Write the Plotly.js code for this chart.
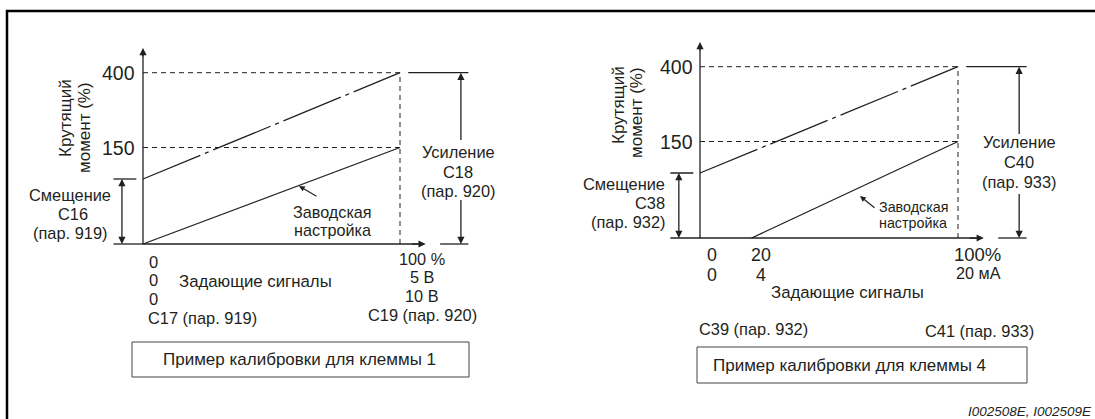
<!DOCTYPE html>
<html>
<head>
<meta charset="utf-8">
<script src="https://cdn.plot.ly/plotly-3.0.1.min.js"></script>
<style>html,body{margin:0;padding:0;background:#fff;}#chart{width:1095px;height:419px;}</style>
</head>
<body>
<div id="chart"></div>
<script>
// ---------------- DATA ----------------
// Setting signal, % of full scale
const signalLeft = [0, 100];          // terminal 1 (0..5 V / 0..10 V)
const signalRightFactory = [20, 100]; // terminal 4 (4..20 mA -> 20..100 %)
const signalRightCalib = [0, 100];
// Torque, %
const factoryTorque = [0, 150];
const calibTorque = ['bias', 400];
// Torque levels marked on the (schematic, non-proportional) torque axis
const torqueLevels = [0, 'bias', 150, 400];
const torqueLevelPos = [0, 65, 96.5, 171.3]; // drawn position of each level on the schematic axis
const torqueTickLabels = ['150', '400'];
const signalMax = 100;

// Texts
const yTitle = ['Крутящий', 'момент (%)'];
const biasLeft = ['Смещение', 'C16', '(пар. 919)'];
const biasRight = ['Смещение', 'C38', '(пар. 932)'];
const gainLeft = ['Усиление', 'C18', '(пар. 920)'];
const gainRight = ['Усиление', 'C40', '(пар. 933)'];
const factoryLabel = ['Заводская', 'настройка'];
const xTitle = 'Задающие сигналы';
const leftZeroLabels = ['0', '0', '0'];
const leftFullLabels = ['100 %', '5 В', '10 В'];
const rightZeroLabels = ['0', '0'];
const rightOffsetLabels = ['20', '4'];
const rightFullLabels = ['100%', '20 мА'];
const paramLeft = ['C17 (пар. 919)', 'C19 (пар. 920)'];
const paramRight = ['C39 (пар. 932)', 'C41 (пар. 933)'];
const captionLeft = 'Пример калибровки для клеммы 1';
const captionRight = 'Пример калибровки для клеммы 4';
const footer = 'I002508E, I002509E';

// ---------------- HELPERS ----------------
const W = 1095, H = 419;
const INK = '#231f20';
const FONT = 'Liberation Sans, Arial, sans-serif';
const FS = 16.4;
const pos = t => torqueLevelPos[torqueLevels.indexOf(t)];
const px = x => x / W;
const py = y => 1 - y / H;

function axRange(originPx, pxPerUnit, d0, d1) {
  return [(d0 * W - originPx) / pxPerUnit, (d1 * W - originPx) / pxPerUnit];
}

const traces = [];
function line(xa, ya, xs, ys, opts) {
  opts = opts || {};
  traces.push({
    type: 'scatter', mode: 'lines', x: xs, y: ys, xaxis: xa, yaxis: ya,
    line: {color: opts.color || INK, width: opts.width || 1.3, dash: opts.dash || 'solid'},
    hoverinfo: 'skip', showlegend: false
  });
}
const annotations = [];
function head(xa, ya, x, y, fx, fy) {
  annotations.push({
    xref: xa, yref: ya, axref: xa, ayref: ya, x: x, y: y, ax: fx, ay: fy,
    text: '', showarrow: true, arrowhead: 2, arrowsize: 1.15, arrowwidth: 1.25,
    arrowcolor: INK, standoff: 0, startstandoff: 0
  });
}
function T(text, x, y, size, xanchor, extra) {
  const a = {
    xref: 'paper', yref: 'paper', x: px(x), y: py(y), text: text, showarrow: false,
    xanchor: xanchor || 'center', yanchor: 'middle', borderpad: 0,
    font: {family: FONT, size: size || FS, color: INK}
  };
  Object.assign(a, extra || {});
  annotations.push(a);
}
function R(text, x, y, size) {
  T(text, x, y, size, 'center', {textangle: -90});
}
function ptr(hx, hy, tx, ty) {
  annotations.push({
    xref: 'paper', yref: 'paper', x: px(hx), y: py(hy), ax: tx - hx, ay: ty - hy,
    text: '', showarrow: true, arrowhead: 2, arrowsize: 1.0, arrowwidth: 1.15,
    arrowcolor: INK, standoff: 0
  });
}

// ---------------- ONE DIAGRAM ----------------
function diagram(xa, ya, factoryX, calibX) {
  const y150 = pos(150), y400 = pos(400), yb = pos('bias');
  // axes with arrows
  line(xa, ya, [0, 0], [0, 194]);
  head(xa, ya, 0, 196, 0, 186);
  line(xa, ya, [0, 108], [0, 0]);
  head(xa, ya, 110, 0, 104, 0);
  // dashed guides
  line(xa, ya, [0, signalMax], [y400, y400], {dash: '5px,4px', width: 1});
  line(xa, ya, [0, signalMax], [y150, y150], {dash: '5px,4px', width: 1});
  line(xa, ya, [signalMax, signalMax], [0, y400], {dash: '5px,4px', width: 1});
  // factory setting
  line(xa, ya, factoryX, factoryTorque.map(pos));
  // calibrated (dash-dot)
  line(xa, ya, calibX, calibTorque.map(pos), {dash: '62px,5px,4px,5px'});
  // bias dimension
  line(xa, ya, [-11.5, -2.6], [yb, yb]);
  line(xa, ya, [-11.5, 0], [0, 0]);
  line(xa, ya, [-8.2, -8.2], [2, yb - 2]);
  head(xa, ya, -8.2, yb, -8.2, yb - 8);
  head(xa, ya, -8.2, 0, -8.2, 8);
  // gain dimension
  line(xa, ya, [103.2, 126.6], [y400, y400]);
  line(xa, ya, [115.6, 126.6], [0, 0]);
  line(xa, ya, [123.7, 123.7], [104, y400 - 2]);
  line(xa, ya, [123.7, 123.7], [2, 44]);
  head(xa, ya, 123.7, y400, 123.7, y400 - 8);
  head(xa, ya, 123.7, 0, 123.7, 8);
}

diagram('x', 'y', signalLeft, signalLeft);
diagram('x2', 'y2', signalRightFactory, signalRightCalib);

// ---------------- TEXT: LEFT ----------------
R(yTitle[0], 65, 118, 17);
R(yTitle[1], 84, 128, 17);
T(torqueTickLabels[1], 136, 72.7, 19.5, 'right');
T(torqueTickLabels[0], 136, 147.5, 19.5, 'right');
T(biasLeft[0], 70, 194.5); T(biasLeft[1], 73, 213.5); T(biasLeft[2], 70, 232.5);
T(gainLeft[0], 458, 152.5); T(gainLeft[1], 458, 171.5); T(gainLeft[2], 458, 190.5);
T(factoryLabel[0], 332, 211.5, 16.2); T(factoryLabel[1], 332, 229.8, 16.2);
ptr(299, 186, 318, 197);
T(leftZeroLabels[0], 153, 261.5, 16.5); T(leftZeroLabels[1], 153, 280, 16.5); T(leftZeroLabels[2], 153, 298.5, 16.5);
T(xTitle, 178, 281, 16.8, 'left');
T(paramLeft[0], 147, 317.5, 16.4, 'left');
T(leftFullLabels[0], 422, 258.5, 16.3); T(leftFullLabels[1], 422, 277, 16.3); T(leftFullLabels[2], 422, 295.5, 16.3);
T(paramLeft[1], 422, 314.5, 16.4);
T(captionLeft, 299, 359, 17);

// ---------------- TEXT: RIGHT ----------------
R(yTitle[0], 618, 105, 17);
R(yTitle[1], 637, 113, 17);
T(torqueTickLabels[1], 694, 66.5, 19.5, 'right');
T(torqueTickLabels[0], 694, 142, 19.5, 'right');
T(biasRight[0], 666, 184, FS, 'right'); T(biasRight[1], 666, 203, FS, 'right'); T(biasRight[2], 666, 222, FS, 'right');
T(gainRight[0], 1019, 142); T(gainRight[1], 1019, 162); T(gainRight[2], 1019, 182);
T(factoryLabel[0], 913, 207, 14.3); T(factoryLabel[1], 913, 223, 14.3);
ptr(860, 196, 876, 209);
T(rightZeroLabels[0], 712, 255, 17.8); T(rightZeroLabels[1], 712, 275, 17.8);
T(rightOffsetLabels[0], 761, 255, 17.8); T(rightOffsetLabels[1], 761, 275, 17.8);
T(xTitle, 770, 292, 16.8, 'left');
T(paramRight[0], 698, 329, 16.4, 'left');
T(rightFullLabels[0], 977, 254, 18.5); T(rightFullLabels[1], 978, 273, 16.2);
T(paramRight[1], 979, 331, 16.4);
T(captionRight, 712, 365, 17, 'left');
T(footer, 1093, 411, 13.5, 'right', {font: {family: FONT, size: 13.5, color: INK, style: 'italic'}});

// ---------------- SHAPES (frame and caption boxes) ----------------
const shapes = [
  {type: 'line', xref: 'paper', yref: 'paper', x0: px(6), x1: 1, y0: py(11), y1: py(11), line: {color: '#000', width: 2.5}},
  {type: 'line', xref: 'paper', yref: 'paper', x0: px(7), x1: px(7), y0: py(10), y1: 0, line: {color: '#000', width: 2.5}},
  {type: 'rect', xref: 'paper', yref: 'paper', x0: px(132), x1: px(469), y0: py(342), y1: py(377), line: {color: '#444', width: 1}},
  {type: 'rect', xref: 'paper', yref: 'paper', x0: px(697), x1: px(1027), y0: py(347), y1: py(383), line: {color: '#444', width: 1}}
];

const hidden = {visible: false, showgrid: false, zeroline: false, fixedrange: true};
const layout = {
  width: W, height: H, margin: {l: 0, r: 0, t: 0, b: 0},
  paper_bgcolor: '#fff', plot_bgcolor: 'rgba(0,0,0,0)', showlegend: false,
  xaxis: Object.assign({domain: [0, 0.5], range: axRange(143, 2.57, 0, 0.5), anchor: 'y'}, hidden),
  yaxis: Object.assign({domain: [0, 1], range: [-(H - 244), 244], anchor: 'x'}, hidden),
  xaxis2: Object.assign({domain: [0.5, 1], range: axRange(700, 2.58, 0.5, 1), anchor: 'y2'}, hidden),
  yaxis2: Object.assign({domain: [0, 1], range: [-(H - 238), 238], anchor: 'x2'}, hidden),
  annotations: annotations, shapes: shapes
};
Plotly.newPlot('chart', traces, layout, {displayModeBar: false, staticPlot: true});
</script>
</body>
</html>
